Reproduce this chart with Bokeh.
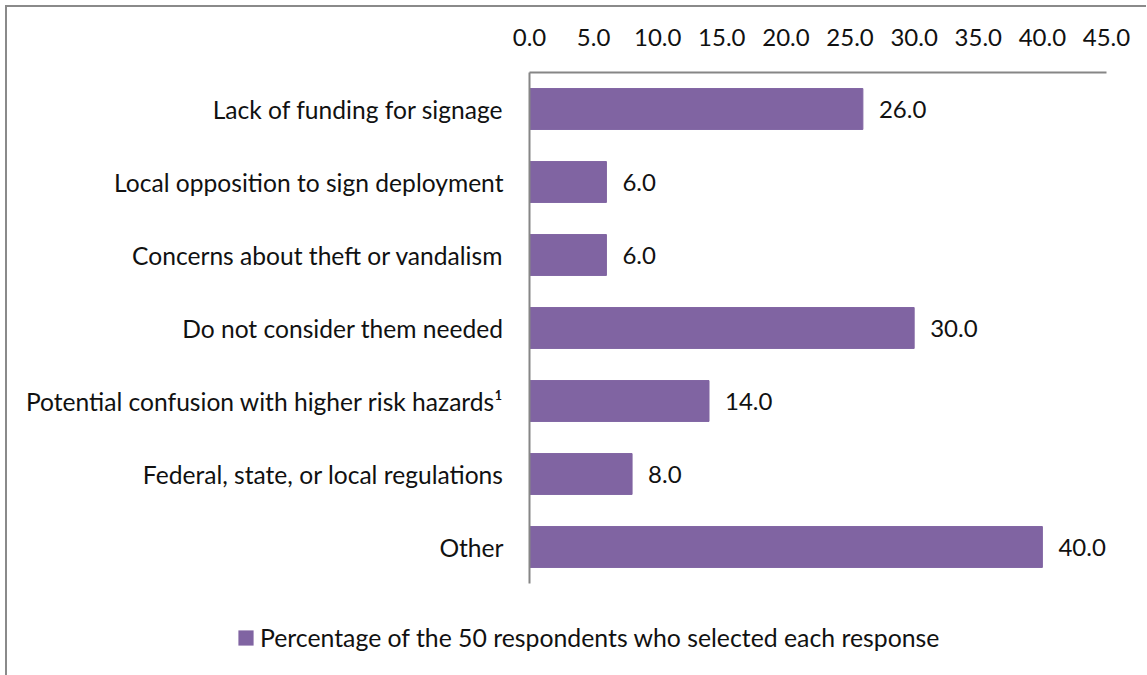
from bokeh.plotting import figure
from bokeh.layouts import column
from bokeh.models import (ColumnDataSource, FactorRange, Range1d, FixedTicker,
                          Legend, LegendItem, CustomJSTickFormatter)
from bokeh.core.properties import value
from bokeh.embed import file_html
from bokeh.resources import INLINE

categories = [
    "Lack of funding for signage",
    "Local opposition to sign deployment",
    "Concerns about theft or vandalism",
    "Do not consider them needed",
    "Potential confusion with higher risk hazards\u00b9",
    "Federal, state, or local regulations",
    "Other",
]
values = [26.0, 6.0, 6.0, 30.0, 14.0, 8.0, 40.0]
x_ticks = [0, 5, 10, 15, 20, 25, 30, 35, 40, 45]
series_name = "Percentage of the 50 respondents who selected each response"

FONT = "Lato"
FS = "24px"
CAT_FS = "24.6px"
LEG_FS = "24.8px"
TXT = "#111111"
AX = "#868686"
BAR = "#8064A2"
W = 1139

src = ColumnDataSource(dict(cat=categories, val=values,
                            lab=["%.1f" % v for v in values]))

p = figure(width=W, height=600,
           y_range=FactorRange(*reversed(categories)),
           x_range=Range1d(0, 45),
           x_axis_location="above",
           output_backend="svg", toolbar_location=None,
           min_border_left=522, min_border_right=40,
           min_border_top=65, min_border_bottom=24)
p.outline_line_color = None
p.grid.visible = False

bars = p.hbar(y="cat", right="val", left=0, height=0.56, source=src,
              fill_color=BAR, line_color=BAR)
p.text(x="val", y="cat", text="lab", source=src, x_offset=16,
       text_baseline="middle", text_align="left",
       text_font=value(FONT), text_font_size=FS, text_color=TXT)

xa = p.xaxis[0]
xa.ticker = FixedTicker(ticks=x_ticks)
xa.formatter = CustomJSTickFormatter(code="return tick.toFixed(1);")
xa.major_tick_line_color = None
xa.minor_tick_line_color = None
xa.major_tick_out = 0
xa.minor_tick_out = 0
xa.axis_line_color = AX
xa.axis_line_width = 2
xa.major_label_standoff = 27
xa.major_label_text_font = FONT
xa.major_label_text_font_size = FS
xa.major_label_text_color = TXT

ya = p.yaxis[0]
ya.major_tick_line_color = None
ya.minor_tick_line_color = None
ya.major_tick_out = 0
ya.minor_tick_out = 0
ya.axis_line_color = AX
ya.axis_line_width = 2
ya.major_label_standoff = 26
ya.major_label_text_font = FONT
ya.major_label_text_font_size = CAT_FS
ya.major_label_text_color = TXT

# legend strip below the chart (its own frame spans the full width)
pl = figure(width=W, height=68,
            y_range=FactorRange(*reversed(categories)),
            x_range=Range1d(0, 45),
            x_axis_location=None, y_axis_location=None,
            output_backend="svg", toolbar_location=None,
            min_border_left=0, min_border_right=0,
            min_border_top=0, min_border_bottom=0)
pl.outline_line_color = None
pl.grid.visible = False
# zero-height copy of the series: invisible, only supplies the legend key
key = pl.hbar(y="cat", right="val", left=0, height=0, source=src,
              fill_color=BAR, line_color=None)
legend = Legend(items=[LegendItem(label=series_name, renderers=[key])],
                location=(229, 23), orientation="horizontal",
                glyph_width=19, glyph_height=19, label_standoff=5,
                padding=0, margin=0, border_line_color=None,
                background_fill_alpha=0,
                label_text_font=FONT, label_text_font_size=LEG_FS,
                label_text_color=TXT)
pl.add_layout(legend, "center")

for fig in (p, pl):
    if hasattr(fig, "frame_align"):
        fig.frame_align = False

layout = column(p, pl, spacing=0,
                styles={"margin-left": "5px", "margin-top": "5px",
                        "border-left": "2px solid #8a8a8a",
                        "border-top": "2px solid #8a8a8a"})

open("out.html", "w").write(file_html(layout, INLINE))
